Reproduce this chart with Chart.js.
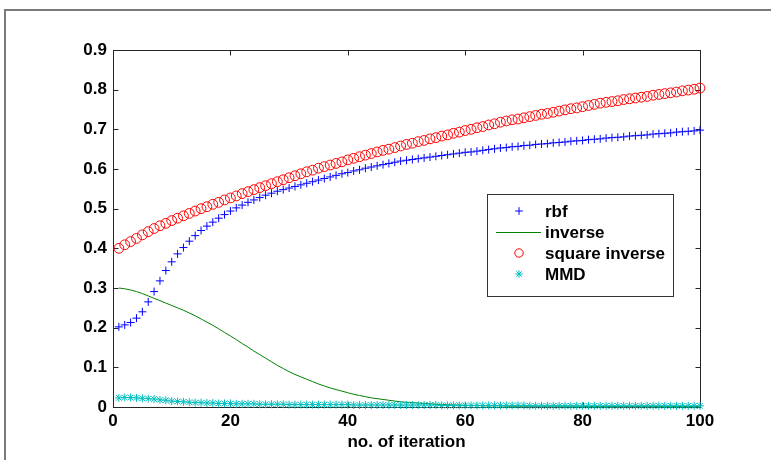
<!DOCTYPE html>
<html>
<head>
<meta charset="utf-8">
<title>rbf / inverse / square inverse / MMD</title>
<script src="https://cdn.jsdelivr.net/npm/chart.js@4.4.0/dist/chart.umd.min.js"></script>
<style>
  body { margin: 0; background: #fff; overflow: hidden; }
  #wrap { position: relative; width: 771px; height: 460px; }
  #frame { position: absolute; left: 4px; top: 9px; width: 800px; height: 500px;
    border-top: 2px solid #7a7a7a; border-left: 2px solid #7a7a7a; }
  #myChart { position: absolute; left: 0; top: 0; }
</style>
</head>
<body>
<div id="wrap">
  <div id="frame"></div>
  <canvas id="myChart" width="771" height="460"></canvas>
</div>
<script>
// datos (iteraciones 1..100)
const rbf = [
  0.202, 0.207, 0.213, 0.224, 0.240, 0.265, 0.291, 0.318, 0.344, 0.366,
  0.386, 0.402, 0.418, 0.432, 0.445, 0.456, 0.466, 0.476, 0.485, 0.494,
  0.502, 0.509, 0.516, 0.522, 0.528, 0.534, 0.539, 0.544, 0.548, 0.552,
  0.556, 0.560, 0.564, 0.568, 0.572, 0.576, 0.580, 0.584, 0.588, 0.591,
  0.595, 0.598, 0.602, 0.605, 0.608, 0.611, 0.614, 0.617, 0.620, 0.622,
  0.624, 0.626, 0.628, 0.630, 0.632, 0.634, 0.636, 0.638, 0.640, 0.642,
  0.643, 0.645, 0.647, 0.649, 0.651, 0.653, 0.654, 0.656, 0.657, 0.659,
  0.660, 0.662, 0.663, 0.664, 0.666, 0.667, 0.668, 0.670, 0.671, 0.672,
  0.674, 0.675, 0.676, 0.678, 0.679, 0.680, 0.681, 0.683, 0.684, 0.685,
  0.686, 0.688, 0.689, 0.690, 0.691, 0.693, 0.694, 0.695, 0.696, 0.698
]

const inverse = [
  0.300, 0.298, 0.295, 0.291, 0.286, 0.280, 0.274, 0.268, 0.262, 0.256,
  0.250, 0.244, 0.237, 0.230, 0.222, 0.214, 0.206, 0.197, 0.188, 0.179,
  0.170, 0.160, 0.151, 0.141, 0.132, 0.123, 0.114, 0.105, 0.097, 0.089,
  0.082, 0.076, 0.070, 0.064, 0.058, 0.053, 0.048, 0.044, 0.040, 0.036,
  0.032, 0.029, 0.026, 0.023, 0.021, 0.019, 0.017, 0.015, 0.013, 0.012,
  0.011, 0.010, 0.009, 0.008, 0.007, 0.006, 0.006, 0.005, 0.005, 0.004,
  0.004, 0.004, 0.003, 0.003, 0.003, 0.003, 0.002, 0.002, 0.002, 0.002,
  0.002, 0.002, 0.002, 0.002, 0.002, 0.002, 0.002, 0.002, 0.002, 0.002,
  0.001, 0.001, 0.001, 0.001, 0.001, 0.001, 0.001, 0.001, 0.001, 0.001,
  0.001, 0.001, 0.001, 0.001, 0.001, 0.001, 0.001, 0.001, 0.001, 0.001
]

const squareInverse = [
  0.400, 0.409, 0.417, 0.425, 0.434, 0.442, 0.450, 0.457, 0.463, 0.470,
  0.476, 0.482, 0.488, 0.494, 0.500, 0.505, 0.511, 0.516, 0.522, 0.527,
  0.532, 0.538, 0.543, 0.548, 0.553, 0.558, 0.563, 0.568, 0.573, 0.578,
  0.583, 0.588, 0.593, 0.597, 0.602, 0.606, 0.610, 0.614, 0.618, 0.623,
  0.627, 0.631, 0.635, 0.639, 0.643, 0.647, 0.650, 0.654, 0.658, 0.662,
  0.665, 0.669, 0.672, 0.676, 0.679, 0.683, 0.686, 0.690, 0.693, 0.697,
  0.700, 0.704, 0.707, 0.711, 0.714, 0.718, 0.721, 0.724, 0.726, 0.729,
  0.732, 0.735, 0.738, 0.740, 0.743, 0.746, 0.749, 0.752, 0.754, 0.757,
  0.760, 0.763, 0.766, 0.768, 0.770, 0.772, 0.775, 0.777, 0.779, 0.781,
  0.783, 0.786, 0.788, 0.790, 0.792, 0.794, 0.797, 0.799, 0.801, 0.804
]

const mmd = [
  0.023, 0.024, 0.024, 0.023, 0.022, 0.021, 0.020, 0.018, 0.017, 0.015,
  0.014, 0.013, 0.012, 0.011, 0.011, 0.010, 0.010, 0.009, 0.009, 0.009,
  0.008, 0.008, 0.008, 0.008, 0.007, 0.007, 0.007, 0.007, 0.007, 0.006,
  0.006, 0.006, 0.006, 0.006, 0.006, 0.006, 0.006, 0.006, 0.006, 0.006,
  0.005, 0.005, 0.005, 0.005, 0.005, 0.005, 0.005, 0.005, 0.005, 0.005,
  0.005, 0.005, 0.005, 0.005, 0.005, 0.004, 0.004, 0.004, 0.004, 0.004,
  0.004, 0.004, 0.004, 0.004, 0.004, 0.004, 0.004, 0.004, 0.004, 0.004,
  0.003, 0.003, 0.003, 0.003, 0.003, 0.003, 0.003, 0.003, 0.003, 0.003,
  0.003, 0.003, 0.003, 0.003, 0.003, 0.003, 0.003, 0.003, 0.003, 0.003,
  0.003, 0.003, 0.003, 0.003, 0.003, 0.003, 0.003, 0.003, 0.003, 0.003
]

const iterations = rbf.map( ( v, i ) => i + 1 )
const xTicks = [0, 20, 40, 60, 80, 100]
const yTicks = [0, 0.1, 0.2, 0.3, 0.4, 0.5, 0.6, 0.7, 0.8, 0.9]
const seriesNames = ['rbf', 'inverse', 'square inverse', 'MMD']
const xTitle = 'no. of iteration'

const FONT = '"Liberation Sans", Arial, sans-serif'

// caja del eje con marcas hacia adentro en los cuatro lados
const boxPlugin = {
  id: 'box',
  beforeDatasetsDraw( chart ) {
    const { ctx, chartArea: a, scales } = chart
    const L = Math.round( a.left ) + 0.5
    const R = Math.round( a.right ) + 0.5
    const T = Math.round( a.top ) + 0.5
    const B = Math.round( a.bottom ) + 0.5
    ctx.save()
    ctx.strokeStyle = '#262626'
    ctx.lineWidth = 1
    ctx.strokeRect( L, T, R - L, B - T )
    ctx.beginPath()
    scales.x.ticks.forEach( ( t ) => {
      const px = Math.round( scales.x.getPixelForValue( t.value ) ) + 0.5
      ctx.moveTo( px, B ); ctx.lineTo( px, B - 5 )
      ctx.moveTo( px, T ); ctx.lineTo( px, T + 5 )
    } )
    scales.y.ticks.forEach( ( t ) => {
      const py = Math.round( scales.y.getPixelForValue( t.value ) ) + 0.5
      ctx.moveTo( L, py ); ctx.lineTo( L + 5, py )
      ctx.moveTo( R, py ); ctx.lineTo( R - 5, py )
    } )
    ctx.stroke()
    ctx.restore()
  }
}

// leyenda dibujada dentro del area del grafico
const legendPlugin = {
  id: 'boxLegend',
  afterDraw( chart ) {
    const { ctx } = chart
    const left = 487, top = 194, width = 186, rowH = 21
    const height = rowH * seriesNames.length + 18
    ctx.save()
    ctx.fillStyle = '#ffffff'
    ctx.fillRect( left, top, width, height )
    ctx.strokeStyle = '#333333'
    ctx.lineWidth = 1
    ctx.strokeRect( left + 0.5, top + 0.5, width, height )
    ctx.font = 'bold 17px ' + FONT
    ctx.textBaseline = 'middle'
    ctx.textAlign = 'left'
    chart.data.datasets.forEach( ( ds, i ) => {
      const y = top + 17 + i * rowH
      const cx = left + 32
      if ( ds.showLine ) {
        ctx.strokeStyle = ds.borderColor
        ctx.lineWidth = ds.borderWidth
        ctx.beginPath()
        ctx.moveTo( left + 9, y + 0.5 )
        ctx.lineTo( left + 54, y + 0.5 )
        ctx.stroke()
      } else {
        ctx.strokeStyle = ds.pointBorderColor
        ctx.fillStyle = 'rgba(0,0,0,0)'
        ctx.lineWidth = 1
        Chart.helpers.drawPoint( ctx, {
          pointStyle: ds.pointStyle,
          radius: ds.pointStyle === 'circle' ? 4.2 : 3.8,
          rotation: 0,
          borderWidth: 1
        }, cx, y )
      }
      ctx.fillStyle = '#000000'
      ctx.fillText( seriesNames[i], left + 58, y + 1 )
    } )
    ctx.restore()
  }
}

const markerSet = ( label, data, color, style, radius, order ) => ( {
  label,
  data,
  showLine: false,
  pointStyle: style,
  pointRadius: radius,
  pointBorderColor: color,
  pointBackgroundColor: 'rgba(0,0,0,0)',
  pointBorderWidth: 1,
  borderColor: color,
  clip: false,
  order
} )

const datasets = [
  markerSet( seriesNames[0], rbf, '#0000ff', 'cross', 4, 4 ),
  {
    label: seriesNames[1],
    data: inverse,
    showLine: true,
    borderColor: '#008000',
    borderWidth: 1,
    pointRadius: 0,
    tension: 0,
    fill: false,
    clip: false,
    order: 3
  },
  markerSet( seriesNames[2], squareInverse, '#ff0000', 'circle', 4.9, 2 ),
  markerSet( seriesNames[3], mmd, '#00bfbf', 'star', 4, 1 )
]

const config = {
  type: 'line',
  data: { labels: iterations, datasets },
  options: {
    responsive: false,
    animation: false,
    devicePixelRatio: 1,
    layout: { padding: { left: 0, right: 71, top: 50, bottom: 0 } },
    plugins: { legend: { display: false }, tooltip: { enabled: false } },
    scales: {
      x: {
        type: 'linear',
        min: 0,
        max: 100,
        afterBuildTicks: ( scale ) => { scale.ticks = xTicks.map( ( v ) => ( { value: v } ) ) },
        afterFit: ( scale ) => { scale.height = 53 },
        grid: { display: false, drawTicks: false },
        border: { display: false },
        ticks: {
          padding: 4,
          color: '#000',
          maxRotation: 0,
          font: { family: FONT, size: 17, weight: 'bold' }
        },
        title: {
          display: true,
          text: xTitle,
          color: '#000',
          padding: { top: 0, bottom: 7 },
          font: { family: FONT, size: 17, weight: 'bold' }
        }
      },
      y: {
        type: 'linear',
        min: 0,
        max: 0.9,
        afterBuildTicks: ( scale ) => { scale.ticks = yTicks.map( ( v ) => ( { value: v } ) ) },
        afterFit: ( scale ) => { scale.width = 113 },
        grid: { display: false, drawTicks: false },
        border: { display: false },
        ticks: {
          padding: 6,
          color: '#000',
          font: { family: FONT, size: 17, weight: 'bold' },
          callback: ( v ) => ( v === 0 ? '0' : v.toFixed( 1 ) )
        }
      }
    }
  },
  plugins: [boxPlugin, legendPlugin]
}

new Chart( document.getElementById( 'myChart' ), config )
</script>
</body>
</html>
